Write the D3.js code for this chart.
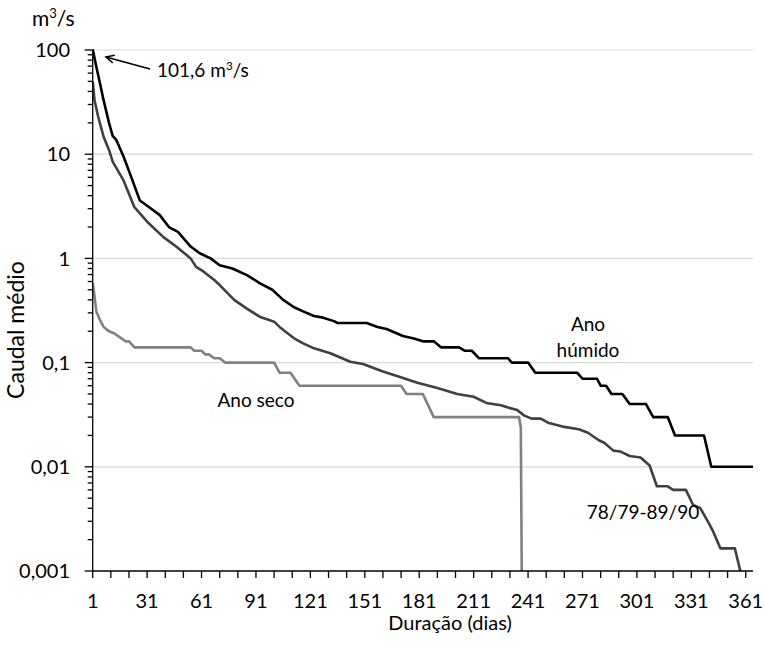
<!DOCTYPE html>
<html>
<head>
<meta charset="utf-8">
<script src="https://cdn.jsdelivr.net/npm/d3@7"></script>
<style>
  html, body { margin: 0; padding: 0; background: #fff; }
  svg text { font-family: Lato, "Open Sans", sans-serif; fill: #000; }
</style>
</head>
<body>
<svg id="chart" width="765" height="645"></svg>
<script>
// ---- Data ----
// Ano húmido (wet year) – breakpoints (day, m3/s)
const wetDays = [1, 3, 5, 7, 10, 12, 14, 18, 22, 27, 31, 38, 43, 48, 55, 60, 66, 71, 78, 86, 93, 100, 106, 112, 117, 123, 128, 134, 136, 152, 158, 163, 172, 178, 183, 189, 193, 203, 206, 210, 214, 230, 232, 241, 245, 268, 271, 279, 281, 284, 287, 293, 297, 306, 310, 318, 322, 338, 342, 365];
const wetFlow = [101.6, 69, 48, 33, 20, 15, 13.7, 9.5, 6.2, 3.6, 3.2, 2.6, 2.0, 1.8, 1.3, 1.12, 1.0, 0.86, 0.8, 0.69, 0.58, 0.5, 0.4, 0.34, 0.31, 0.28, 0.27, 0.25, 0.24, 0.24, 0.22, 0.21, 0.18, 0.17, 0.16, 0.16, 0.14, 0.14, 0.13, 0.13, 0.11, 0.11, 0.10, 0.10, 0.08, 0.08, 0.07, 0.07, 0.06, 0.06, 0.05, 0.05, 0.04, 0.04, 0.03, 0.03, 0.02, 0.02, 0.01, 0.01];

// 78/79-89/90 (average)
const avgDays = [1, 2, 4, 7, 10, 12, 18, 24, 31, 40, 47, 55, 58, 62, 68, 71, 79, 86, 93, 101, 104, 112, 117, 123, 132, 143, 150, 161, 170, 180, 191, 202, 211, 218, 226, 230, 235, 239, 243, 248, 252, 260, 269, 274, 280, 283, 288, 292, 297, 303, 308, 312, 318, 321, 328, 332, 336, 341, 343, 347, 355, 358];
const avgFlow = [50, 33, 23, 14.7, 11, 8.5, 5.6, 3.1, 2.25, 1.6, 1.3, 1.0, 0.83, 0.75, 0.62, 0.555, 0.40, 0.33, 0.276, 0.247, 0.22, 0.171, 0.153, 0.137, 0.123, 0.102, 0.097, 0.082, 0.073, 0.064, 0.057, 0.050, 0.047, 0.041, 0.039, 0.037, 0.035, 0.031, 0.029, 0.029, 0.0265, 0.0243, 0.0229, 0.0212, 0.018, 0.017, 0.0143, 0.014, 0.0127, 0.0123, 0.0103, 0.0065, 0.0065, 0.006, 0.006, 0.0043, 0.004, 0.0028, 0.0024, 0.00165, 0.00165, 0.001];

// Ano seco (dry year)
const dryDays = [1, 2, 3, 5, 7, 10, 13, 17, 19, 21, 24, 55, 57, 61, 63, 65, 68, 71, 74, 101, 104, 110, 115, 171, 174, 183, 189, 236, 237, 238];
const dryFlow = [0.58, 0.43, 0.31, 0.256, 0.22, 0.2, 0.19, 0.17, 0.16, 0.16, 0.14, 0.14, 0.13, 0.13, 0.12, 0.12, 0.11, 0.11, 0.10, 0.10, 0.08, 0.08, 0.06, 0.06, 0.05, 0.05, 0.03, 0.03, 0.024, 0.00005];

const xTickLabels = [1, 31, 61, 91, 121, 151, 181, 211, 241, 271, 301, 331, 361];
const yTickValues = [0.001, 0.01, 0.1, 1, 10, 100];
const yTickLabels = ["0,001", "0,01", "0,1", "1", "10", "100"];
const seriesNames = ["Ano húmido", "78/79-89/90", "Ano seco"];

// ---- Layout ----
const svg = d3.select("#chart");
const pL = 92.7, pR = 753, pT = 50, pB = 571;
const FS = 19;     // annotation text
const FT = 20;     // tick labels / x title

const x = d3.scaleLinear().domain([1, 365]).range([pL, pR]);
const y = d3.scaleLog().domain([0.001, 100]).range([pB, pT]);

// clip
svg.append("clipPath").attr("id", "plotclip")
  .append("rect").attr("x", pL).attr("y", pT - 3).attr("width", pR - pL + 2).attr("height", pB - pT + 3);

// gridlines
svg.append("g").selectAll("line").data(yTickValues.slice(1)).join("line")
  .attr("x1", pL).attr("x2", pR)
  .attr("y1", d => y(d)).attr("y2", d => y(d))
  .attr("stroke", "#d9d9d9").attr("stroke-width", 1.2);

// series
const series = [
  { name: seriesNames[0], days: wetDays, vals: wetFlow, color: "#000000" },
  { name: seriesNames[1], days: avgDays, vals: avgFlow, color: "#404040" },
  { name: seriesNames[2], days: dryDays, vals: dryFlow, color: "#808080" }
];
const line = d3.line().x(d => x(d[0])).y(d => y(d[1]));
const gS = svg.append("g").attr("clip-path", "url(#plotclip)");
series.slice().reverse().forEach(s => {
  gS.append("path")
    .datum(s.days.map((d, i) => [d, s.vals[i]]))
    .attr("d", line)
    .attr("fill", "none")
    .attr("stroke", s.color)
    .attr("stroke-width", 2.6)
    .attr("stroke-linejoin", "round");
});

// y axis (log, with minor ticks)
const minor = [];
for (let e = -3; e < 2; e++) for (let k = 2; k <= 9; k++) minor.push(k * Math.pow(10, e));
const gy = svg.append("g");
gy.append("line").attr("x1", pL).attr("x2", pL).attr("y1", pT).attr("y2", pB)
  .attr("stroke", "#000").attr("stroke-width", 1.3);
gy.selectAll("line.maj").data(yTickValues).join("line").attr("class", "maj")
  .attr("x1", pL - 8).attr("x2", pL).attr("y1", d => y(d)).attr("y2", d => y(d))
  .attr("stroke", "#000").attr("stroke-width", 1.3);
gy.selectAll("line.min").data(minor).join("line").attr("class", "min")
  .attr("x1", pL - 5).attr("x2", pL).attr("y1", d => y(d)).attr("y2", d => y(d))
  .attr("stroke", "#000").attr("stroke-width", 1.3);
gy.selectAll("text").data(yTickValues).join("text")
  .attr("x", 70).attr("y", d => y(d)).attr("dy", "0.36em")
  .attr("text-anchor", "end").attr("font-size", FT)
  .text((d, i) => yTickLabels[i]);

// x axis
const gx = svg.append("g");
gx.append("line").attr("x1", pL).attr("x2", pR).attr("y1", pB).attr("y2", pB)
  .attr("stroke", "#000").attr("stroke-width", 1.3);
gx.selectAll("line.t").data(d3.range(1, 365, 10)).join("line").attr("class", "t")
  .attr("x1", d => x(d)).attr("x2", d => x(d)).attr("y1", pB).attr("y2", pB + 7)
  .attr("stroke", "#000").attr("stroke-width", 1.3);
gx.selectAll("text").data(xTickLabels).join("text")
  .attr("x", d => x(d)).attr("y", 608)
  .attr("text-anchor", "middle").attr("font-size", FT)
  .text(d => d);

// axis titles
svg.append("text").attr("x", 450).attr("y", 630).attr("text-anchor", "middle")
  .attr("font-size", FT).text("Duração (dias)");
svg.append("text").attr("transform", "translate(24,330) rotate(-90)").attr("text-anchor", "middle")
  .attr("font-size", 23).text("Caudal médio");
const unit = svg.append("text").attr("x", 32).attr("y", 26).attr("font-size", 21);
unit.append("tspan").text("m");
unit.append("tspan").attr("font-size", 21 * 0.62).attr("dy", -8).text("3");
unit.append("tspan").attr("dy", 8).text("/s");

// annotation: peak value
const ann = svg.append("text").attr("x", 157).attr("y", 77).attr("font-size", FS);
ann.append("tspan").text("101,6 m");
ann.append("tspan").attr("font-size", FS * 0.62).attr("dy", -7).text("3");
ann.append("tspan").attr("dy", 7).text("/s");
// arrow pointing to the peak
const hx = x(8.3), hy = y(85.7), tx = x(32.6), ty = y(65.8);
const ang = Math.atan2(ty - hy, tx - hx);
const L = 9, spread = 0.45;
svg.append("line").attr("x1", tx).attr("y1", ty).attr("x2", hx).attr("y2", hy)
  .attr("stroke", "#000").attr("stroke-width", 1.5);
svg.append("path")
  .attr("d", `M${hx + L * Math.cos(ang + spread)},${hy + L * Math.sin(ang + spread)} L${hx},${hy} L${hx + L * Math.cos(ang - spread)},${hy + L * Math.sin(ang - spread)}`)
  .attr("fill", "none").attr("stroke", "#000").attr("stroke-width", 1.5);

// series labels
svg.append("text").attr("x", 588).attr("y", 331).attr("text-anchor", "middle").attr("font-size", FS).text("Ano");
svg.append("text").attr("x", 588).attr("y", 357).attr("text-anchor", "middle").attr("font-size", FS).text("húmido");
svg.append("text").attr("x", 256).attr("y", 407).attr("text-anchor", "middle").attr("font-size", FS).text(seriesNames[2]);
svg.append("text").attr("x", 643).attr("y", 519).attr("text-anchor", "middle").attr("font-size", FS).text(seriesNames[1]);
</script>
</body>
</html>
